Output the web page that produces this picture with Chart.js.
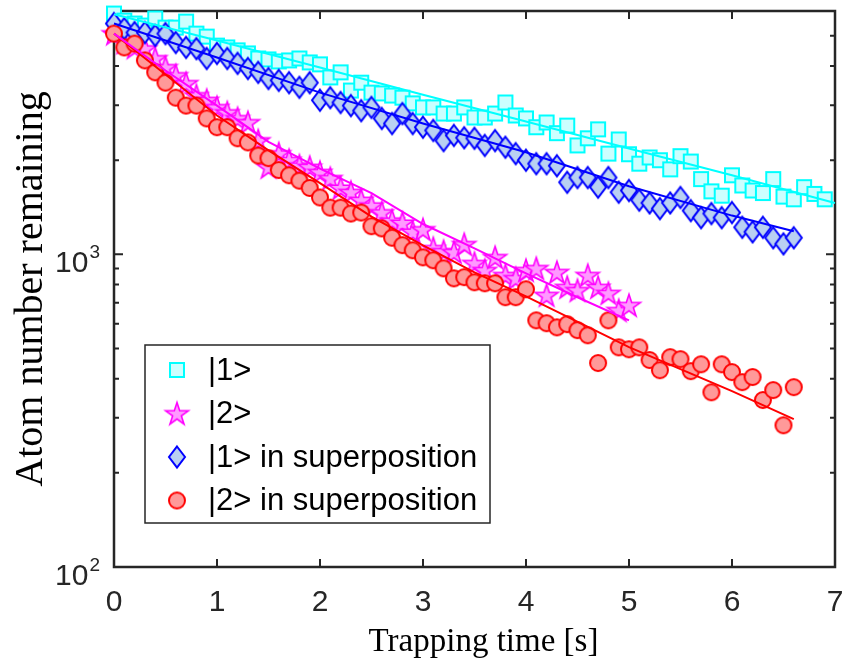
<!DOCTYPE html>
<html>
<head>
<meta charset="utf-8">
<script src="https://cdn.jsdelivr.net/npm/chart.js@4.4.1/dist/chart.umd.min.js"></script>
<style>
html,body{margin:0;padding:0;background:#ffffff;}
#wrap{width:846px;height:664px;position:relative;}
</style>
</head>
<body>
<div id="wrap"><canvas id="c" width="846" height="664"></canvas></div>
<script>
// ---------------- data ----------------
const sampleTimes = [0,0.1,0.2,0.3,0.4,0.5,0.6,0.7,0.8,0.9,
  1.0,1.1,1.2,1.3,1.4,1.5,1.6,1.7,1.8,1.9,
  2.0,2.1,2.2,2.3,2.4,2.5,2.6,2.7,2.8,2.9,
  3.0,3.1,3.2,3.3,3.4,3.5,3.6,3.7,3.8,3.9,
  4.0,4.1,4.2,4.3,4.4,4.5,4.6,4.7,4.8,4.9,
  5.0,5.1,5.2,5.3,5.4,5.5,5.6,5.7,5.8,5.9,
  6.0,6.1,6.2,6.3,6.4,6.5,6.6,6.7,6.8,6.9];

// |1>  (t = 0 ... 6.9 s)
const state1Values = [5890,5590,5470,5390,5680,5310,5310,5550,5080,4970,
  4650,4590,4490,4390,4230,4200,4140,4170,4230,4110,
  4050,3680,3820,3340,3540,3290,3270,3220,3170,3040,
  2950,2950,2820,2820,2950,2740,2740,2820,3060,2780,
  2720,2550,2640,2440,2580,2230,2350,2510,2100,2330,
  2090,1950,2040,2000,1870,2060,1980,1740,1590,1540,
  1790,1660,1600,1570,1740,1530,1500,1640,1560,1500];

// |2>  (t = 0 ... 5.0 s)
const state2Values = [5080,4760,4590,4550,4230,3960,3730,3520,3220,3110,
  2950,2840,2720,2640,2310,1900,2100,2000,1920,1900,
  1830,1750,1630,1580,1490,1430,1360,1280,1260,1180,
  1200,1045,1022,1015,1076,936,889,978,857,838,
  889,902,740,876,785,767,857,785,751,662,
  687];

// |1> in superposition  (t = 0 ... 6.6 s)
const super1Values = [5470,5270,5120,5120,5010,5080,4760,4590,4550,4230,
  4390,4230,4080,3930,3820,3650,3600,3540,3420,3540,
  3110,3170,3060,2990,2880,2950,2720,2620,2820,2620,
  2550,2490,2310,2400,2360,2350,2230,2310,2200,2100,
  2000,1950,1950,1920,1700,1760,1760,1640,1760,1580,
  1600,1490,1460,1400,1460,1520,1380,1310,1350,1310,
  1360,1220,1180,1220,1130,1080,1130];

// |2> in superposition  (t = 0 ... 6.6 s)
const super2Values = [5080,4590,4720,4170,3820,3540,3170,2990,2990,2720,
  2550,2550,2350,2280,2070,2030,1860,1790,1720,1630,
  1520,1410,1410,1350,1360,1230,1210,1130,1070,1030,
  978,957,902,838,845,814,808,808,729,729,
  773,615,602,584,598,572,551,449,615,504,
  497,504,459,426,469,462,423,445,362,445,
  420,390,405,342,368,284,376];

// fitted decay curves
const state1FitTimes  = [0,1,2,3,4,5,6,7];
const state1FitValues = [5860,4830,3960,3240,2660,2180,1790,1460];
const state2FitTimes  = [0,0.5,1,1.5,2,2.5,3,3.5,4,4.5,5];
const state2FitValues = [5080,3870,2990,2290,1880,1570,1250,1045,869,729,615];
const super1FitTimes  = [0,0.5,1,2,3,4,5,6,6.6];
const super1FitValues = [5470,4830,4260,3290,2620,2120,1650,1330,1185];
const super2FitTimes  = [0,0.5,1,1.5,2,2.5,3,3.5,4,5,6,6.6];
const super2FitValues = [5080,3760,2780,2150,1690,1320,1068,876,734,505,365,297];

const seriesLabels = ['|1>','|2>','|1> in superposition','|2> in superposition'];
const xTickValues = [0,1,2,3,4,5,6,7];
const yMajorTicks = [100,1000];
const yTickBase = '10';
const yTickExponents = ['2','3'];
const yMinorTicks = [200,300,400,500,600,700,800,900,2000,3000,4000,5000];
const xAxisTitle = 'Trapping time [s]';
const yAxisTitle = 'Atom number remaining';

// ---------------- markers ----------------
function makeMarker(kind) {
  const S = 30, m = S / 2;
  const c = document.createElement('canvas');
  c.width = S; c.height = S;
  const g = c.getContext('2d');
  g.lineWidth = 2;
  g.lineJoin = 'miter';
  g.beginPath();
  if (kind === 'square') {
    g.rect(m - 7, m - 7, 14, 14);
    g.fillStyle = '#ccffff'; g.strokeStyle = '#00ffff';
  } else if (kind === 'star') {
    const R = 12, r = R * 0.382;
    for (let i = 0; i < 10; i++) {
      const rad = (i % 2 === 0) ? R : r;
      const a = -Math.PI / 2 + i * Math.PI / 5;
      const px = m + rad * Math.cos(a), py = m + 1 + rad * Math.sin(a);
      if (i === 0) g.moveTo(px, py); else g.lineTo(px, py);
    }
    g.closePath();
    g.lineWidth = 1.6;
    g.fillStyle = '#ff99ff'; g.strokeStyle = '#ff00ff';
  } else if (kind === 'diamond') {
    g.moveTo(m, m - 10.5); g.lineTo(m + 8, m); g.lineTo(m, m + 10.5); g.lineTo(m - 8, m);
    g.closePath();
    g.fillStyle = '#b9d0f2'; g.strokeStyle = '#0000ff';
  } else {
    g.arc(m, m, 8, 0, Math.PI * 2);
    g.fillStyle = '#ff9999'; g.strokeStyle = '#ff0000';
  }
  g.fill(); g.stroke();
  return c;
}
const markers = [makeMarker('square'), makeMarker('star'), makeMarker('diamond'), makeMarker('circle')];

function pts(times, values) { return values.map((v, i) => ({x: times[i], y: v})); }

// ---------------- plugins ----------------
const framePlugin = {
  id: 'frame',
  beforeDatasetsDraw(chart) {
    const {ctx, chartArea: a, scales: {x, y}} = chart;
    ctx.save();
    // y tick labels 10^n with raised exponent
    ctx.fillStyle = '#262626';
    ctx.textBaseline = 'alphabetic';
    ctx.textAlign = 'right';
    yMajorTicks.forEach((v, i) => {
      const py = y.getPixelForValue(v);
      ctx.font = '19px "Liberation Sans", Arial, sans-serif';
      const supW = ctx.measureText(yTickExponents[i]).width;
      ctx.fillText(yTickExponents[i], a.left - 14, py + 4);
      ctx.font = '30px "Liberation Sans", Arial, sans-serif';
      ctx.fillText(yTickBase, a.left - 15 - supW, py + 18);
    });
    // x axis title
    ctx.fillStyle = '#000000';
    ctx.textAlign = 'center';
    ctx.font = '33px "Liberation Serif", "Times New Roman", serif';
    ctx.fillText(xAxisTitle, (a.left + a.right) / 2 + 9, 651);
    // ticks (inward) and box
    ctx.strokeStyle = '#262626';
    ctx.lineWidth = 2;
    ctx.beginPath();
    xTickValues.forEach(v => {
      const px = x.getPixelForValue(v);
      ctx.moveTo(px, a.bottom); ctx.lineTo(px, a.bottom - 8);
      ctx.moveTo(px, a.top); ctx.lineTo(px, a.top + 8);
    });
    yMajorTicks.forEach(v => {
      const py = y.getPixelForValue(v);
      ctx.moveTo(a.left, py); ctx.lineTo(a.left + 9, py);
      ctx.moveTo(a.right, py); ctx.lineTo(a.right - 9, py);
    });
    yMinorTicks.forEach(v => {
      const py = y.getPixelForValue(v);
      ctx.moveTo(a.left, py); ctx.lineTo(a.left + 5, py);
      ctx.moveTo(a.right, py); ctx.lineTo(a.right - 5, py);
    });
    ctx.stroke();
    ctx.lineWidth = 2.5;
    ctx.strokeRect(a.left, a.top, a.right - a.left, a.bottom - a.top);
    ctx.restore();
  }
};

const legendPlugin = {
  id: 'boxLegend',
  afterDraw(chart) {
    const ctx = chart.ctx;
    const box = {l: 145, t: 345, r: 490, b: 523};
    const rows = [370, 413.5, 457, 500.5];
    ctx.save();
    ctx.fillStyle = '#ffffff';
    ctx.fillRect(box.l, box.t, box.r - box.l, box.b - box.t);
    ctx.strokeStyle = '#262626';
    ctx.lineWidth = 1.5;
    ctx.strokeRect(box.l, box.t, box.r - box.l, box.b - box.t);
    ctx.font = '31px "Liberation Sans", Arial, sans-serif';
    ctx.fillStyle = '#000000';
    ctx.textBaseline = 'middle';
    ctx.textAlign = 'left';
    seriesLabels.forEach((lab, i) => {
      const mk = markers[i];
      ctx.drawImage(mk, 177 - mk.width / 2, rows[i] - mk.height / 2);
      ctx.fillText(lab, 208, rows[i] + 1);
    });
    ctx.restore();
  }
};

// ---------------- chart ----------------
const tickFont = {family: '"Liberation Sans", Arial, sans-serif', size: 30};
const fitStyle = (col) => ({showLine: true, pointRadius: 0, borderColor: col, borderWidth: 2, fill: false, tension: 0, clip: false, order: 0});
const markStyle = (mk, ord) => ({pointStyle: mk, pointRadius: 10, showLine: false, clip: false, order: ord});

new Chart(document.getElementById('c'), {
  type: 'scatter',
  data: {
    datasets: [
      Object.assign({label: seriesLabels[0] + ' fit', data: pts(state1FitTimes, state1FitValues)}, fitStyle('#00ffff')),
      Object.assign({label: seriesLabels[1] + ' fit', data: pts(state2FitTimes, state2FitValues)}, fitStyle('#ff00ff')),
      Object.assign({label: seriesLabels[2] + ' fit', data: pts(super1FitTimes, super1FitValues)}, fitStyle('#0000ff')),
      Object.assign({label: seriesLabels[3] + ' fit', data: pts(super2FitTimes, super2FitValues)}, fitStyle('#ff0000')),
      Object.assign({label: seriesLabels[0], data: pts(sampleTimes, state1Values)}, markStyle(markers[0], 4)),
      Object.assign({label: seriesLabels[1], data: pts(sampleTimes, state2Values)}, markStyle(markers[1], 3)),
      Object.assign({label: seriesLabels[2], data: pts(sampleTimes, super1Values)}, markStyle(markers[2], 2)),
      Object.assign({label: seriesLabels[3], data: pts(sampleTimes, super2Values)}, markStyle(markers[3], 1))
    ]
  },
  options: {
    responsive: false,
    animation: false,
    events: [],
    layout: {padding: {top: 11, right: 6, left: 0, bottom: 0}},
    plugins: {legend: {display: false}, tooltip: {enabled: false}},
    scales: {
      x: {
        type: 'linear', position: 'bottom', min: 0, max: 7,
        afterBuildTicks: s => { s.ticks = xTickValues.map(v => ({value: v})); },
        afterFit: s => { s.height = 97; s.paddingLeft = 0; s.paddingRight = 0; },
        grid: {display: false, drawTicks: false},
        border: {display: false},
        ticks: {font: tickFont, color: '#262626', padding: 18, autoSkip: false, maxRotation: 0},
        title: {display: false, text: xAxisTitle}
      },
      y: {
        type: 'logarithmic', position: 'left', min: 100, max: 6000,
        afterBuildTicks: s => { s.ticks = yMajorTicks.map(v => ({value: v})); },
        afterFit: s => { s.width = 114; s.paddingTop = 0; s.paddingBottom = 0; },
        grid: {display: false, drawTicks: false},
        border: {display: false},
        ticks: {display: false},
        title: {display: true, text: yAxisTitle, color: '#000000',
                font: {family: '"Liberation Serif", "Times New Roman", serif', size: 40},
                padding: {top: 7, bottom: 0}}
      }
    }
  },
  plugins: [framePlugin, legendPlugin]
});
</script>
</body>
</html>
